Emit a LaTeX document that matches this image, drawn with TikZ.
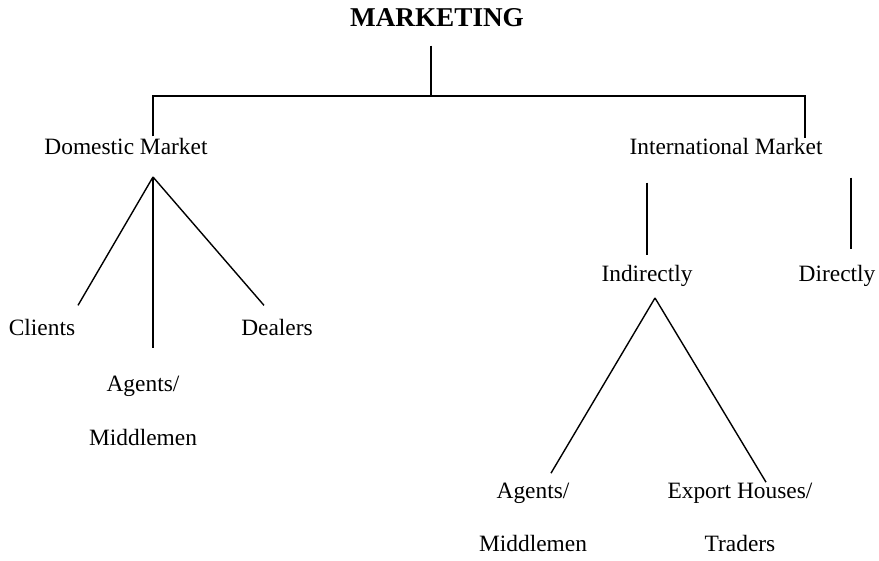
\documentclass[tikz,border=0pt]{standalone}
\usepackage{fontspec}
\setmainfont{Liberation Serif}
\usepackage{tikz}
\usetikzlibrary{positioning}
\tikzset{c-label/.style={anchor=base, inner sep=0pt, align=center, font=\fontsize{11.7}{27}\selectfont},
c-title/.style={anchor=base, inner sep=0pt, font=\fontsize{13.6}{16}\selectfont\bfseries},
branch/.style={line width=0.7pt}}

\begin{document}
\begin{tikzpicture}[x=0.5pt, y=-0.5pt]
\useasboundingbox (0,0) rectangle (879,561);
\node (mkt) [c-title] at (437,27) {MARKETING};
\node (domestic) [c-label] at (126,155) {Domestic Market};
\node (international) [c-label] at (726,155) {International Market};
\node (clients) [c-label] at (42,336) {Clients};
\node (dealers) [c-label] at (277,336) {Dealers};
\node (dom-agents) [c-label] at (143,445) {Agents/\\Middlemen};
\node (indirect) [c-label] at (647,282) {Indirectly};
\node (direct) [c-label] at (837,282) {Directly};
\node (int-agents) [c-label] at (533,552) {Agents/\\Middlemen};
\node (export) [c-label] at (740,552) {Export Houses/\\Traders};
\coordinate (stem) at (431,96);
\coordinate (bar-l) at (153,96);
\coordinate (bar-r) at (805,96);
\coordinate (dom-fork) at (153,177);
\coordinate (ind-fork) at (655,298);
\coordinate (direct-top) at ([xshift=7pt]direct.north);
\draw [branch, shorten <=9pt] (mkt.south -| stem) -- (stem);
\draw [branch, shorten <=1pt] (domestic.north -| bar-l) -- (bar-l) -- (bar-r) -- (international.north -| bar-r);
\draw [branch] (dom-fork) -- ([xshift=18pt, yshift=7pt]clients.north);
\draw [branch, shorten >=13.5pt] (dom-fork) -- (dom-fork |- dom-agents.north);
\draw [branch] (dom-fork) -- ([xshift=-6.5pt, yshift=7pt]dealers.north);
\draw [branch, shorten <=13.5pt, shorten >=5pt] (international.south -| indirect.north) -- (indirect.north);
\draw [branch, shorten <=11pt, shorten >=8pt] (direct-top |- international.south) -- (direct-top);
\draw [branch] (ind-fork) -- ([xshift=9pt, yshift=4.5pt]int-agents.north);
\draw [branch] (ind-fork) -- ([xshift=13pt]export.north);
\end{tikzpicture}
\end{document}
